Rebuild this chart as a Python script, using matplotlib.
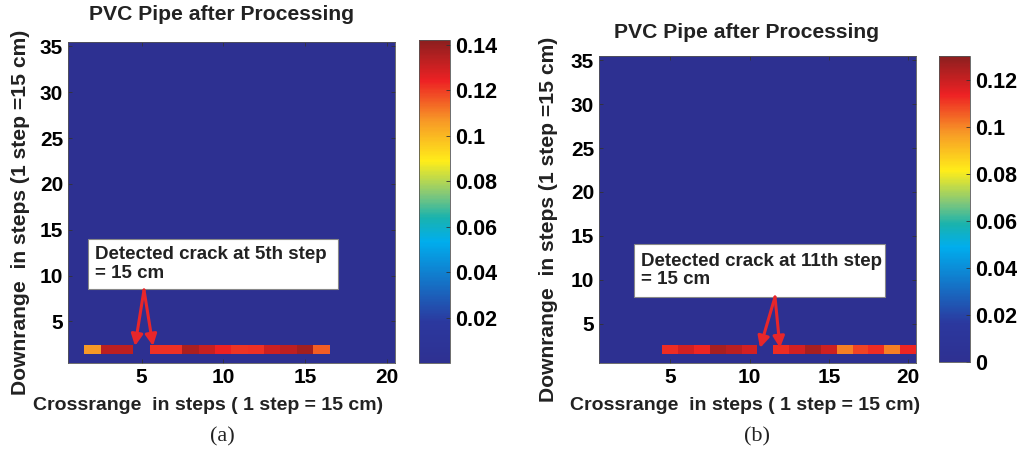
import numpy as np
import matplotlib
matplotlib.use("Agg")
import matplotlib.pyplot as plt
from matplotlib.colors import LinearSegmentedColormap
from matplotlib.patches import Rectangle

# ---- data ----
n_cross = 20
n_down = 35
crack_row = 2  # downrange step of the scanned line
left_values = [0, 0.106, 0.133, 0.133, 0, 0.122, 0.122, 0.136, 0.131, 0.124,
               0.121, 0.122, 0.130, 0.133, 0.138, 0.115, 0, 0, 0, 0]
right_values = [0, 0, 0, 0, 0.112, 0.118, 0.113, 0.125, 0.122, 0.118,
                0, 0.112, 0.118, 0.125, 0.119, 0.101, 0.109, 0.112, 0.101, 0.113]
left_clim = (0, 0.142)
right_clim = (0, 0.13)
left_cticks = [0.02, 0.04, 0.06, 0.08, 0.1, 0.12, 0.14]
right_cticks = [0, 0.02, 0.04, 0.06, 0.08, 0.1, 0.12]
xticks = [5, 10, 15, 20]
yticks = [5, 10, 15, 20, 25, 30, 35]
title = "PVC Pipe after Processing"
xlab = "Crossrange  in steps ( 1 step = 15 cm)"
ylab = "Downrange  in steps (1 step =15 cm)"
left_note = "Detected crack at 5th step\n= 15 cm"
right_note = "Detected crack at 11th step\n= 15 cm"

# printed-jet colormap
cmap = LinearSegmentedColormap.from_list("printjet", [
    (0.0, (0.18, 0.19, 0.57)),
    (0.125, (0.17, 0.22, 0.62)),
    (0.25, (0.08, 0.45, 0.78)),
    (0.375, (0.0, 0.68, 0.93)),
    (0.45, (0.10, 0.70, 0.68)),
    (0.52, (0.50, 0.78, 0.48)),
    (0.625, (1.0, 0.93, 0.10)),
    (0.75, (0.97, 0.60, 0.15)),
    (0.875, (0.93, 0.13, 0.14)),
    (1.0, (0.55, 0.12, 0.12)),
])

FS_TICK = 15
FS_CTICK = 15.5
FS_LAB = 14
FS_YLAB = 15.2
FS_TITLE = 15.2
FS_NOTE = 13.5
W, H = 1019, 457

fig = plt.figure(figsize=(W / 100, H / 100), dpi=100)
plt.rcParams['font.family'] = ['Liberation Sans', 'DejaVu Sans']


def fx(px):
    return px / W


def fy(py):
    return 1 - py / H


def panel(ax_box, cb_box, values, clim, cticks, note, box_px, arrow_from, arrow_tips,
          title_xy, xlab_xy, ylab_xy, sub_xy, sub):
    l, t, r, b = ax_box
    ax = fig.add_axes([fx(l), fy(b), fx(r - l), fy(t) - fy(b)])
    grid = np.zeros((n_down, n_cross))
    grid[crack_row - 1, :] = values
    im = ax.imshow(grid, cmap=cmap, vmin=clim[0], vmax=clim[1], origin='lower',
                   extent=(0.5, n_cross + 0.5, 0.5, n_down + 0.5), aspect='auto',
                   interpolation='nearest')
    ax.set_xticks(xticks)
    ax.set_yticks(yticks)
    ax.tick_params(direction='in', length=3, labelsize=FS_TICK, top=True, right=True,
                   width=0.6, color='#333333')
    for lab in ax.get_xticklabels() + ax.get_yticklabels():
        lab.set_fontweight('bold')
    for s in ax.spines.values():
        s.set_linewidth(0.6)
        s.set_color('#555555')

    # px -> data
    def dx(px):
        return 0.5 + (px - l) / (r - l) * n_cross

    def dy(py):
        return 0.5 + (b - py) / (b - t) * n_down

    bl, bt, br, bb = box_px
    ax.add_patch(Rectangle((dx(bl), dy(bb)), dx(br) - dx(bl), dy(bt) - dy(bb),
                           facecolor='white', edgecolor='#888888', lw=0.8, zorder=3))
    ax.text(dx(bl + 7), dy((bt + bb) / 2), note, fontsize=FS_NOTE, fontweight='bold',
            ha='left', va='center', color='#222222', zorder=4, linespacing=1.15)
    for tip in arrow_tips:
        ax.annotate('', xy=(dx(tip[0]), dy(tip[1])), xytext=(dx(arrow_from[0]), dy(arrow_from[1])),
                    arrowprops=dict(arrowstyle='-|>', color='#E8262A', lw=2.2,
                                    mutation_scale=17, shrinkA=0, shrinkB=0), zorder=5)

    cl, ct, cr, cbm = cb_box
    cax = fig.add_axes([fx(cl), fy(cbm), fx(cr - cl), fy(ct) - fy(cbm)])
    cb = fig.colorbar(im, cax=cax, ticks=cticks)
    cb.ax.set_yticklabels([f"{v:g}" for v in cticks])
    cb.ax.tick_params(direction='in', length=3, labelsize=FS_CTICK, width=0.6, color='#333333')
    for lab in cb.ax.get_yticklabels():
        lab.set_fontweight('bold')
    cb.outline.set_linewidth(0.6)
    cb.outline.set_edgecolor('#555555')

    fig.text(fx(title_xy[0]), fy(title_xy[1]), title, fontsize=FS_TITLE, fontweight='bold',
             ha='center', va='center', color='#222222')
    fig.text(fx(xlab_xy[0]), fy(xlab_xy[1]), xlab, fontsize=FS_LAB, fontweight='bold',
             ha='center', va='center', color='#222222')
    fig.text(fx(ylab_xy[0]), fy(ylab_xy[1]), ylab, fontsize=FS_YLAB, fontweight='bold',
             ha='center', va='center', rotation=90, color='#222222')
    fig.text(fx(sub_xy[0]), fy(sub_xy[1]), sub, fontsize=16, family='Liberation Serif',
             ha='center', va='center', color='#222222')


panel((68, 41.7, 395, 362.7), (419, 40, 450, 363), left_values, left_clim, left_cticks,
      left_note, (88, 239, 338, 289), (144, 290), [(135, 346), (153, 346)],
      (222, 15), (208, 405), (21, 212), (222, 437), "(a)")
panel((599, 56, 916, 363), (939, 56, 970, 362), right_values, right_clim, right_cticks,
      right_note, (634, 244, 885, 297), (775, 297), [(760, 348), (780, 348)],
      (747, 32), (745, 405), (549, 219), (757, 437), "(b)")

fig.savefig("out.png", dpi=100)
